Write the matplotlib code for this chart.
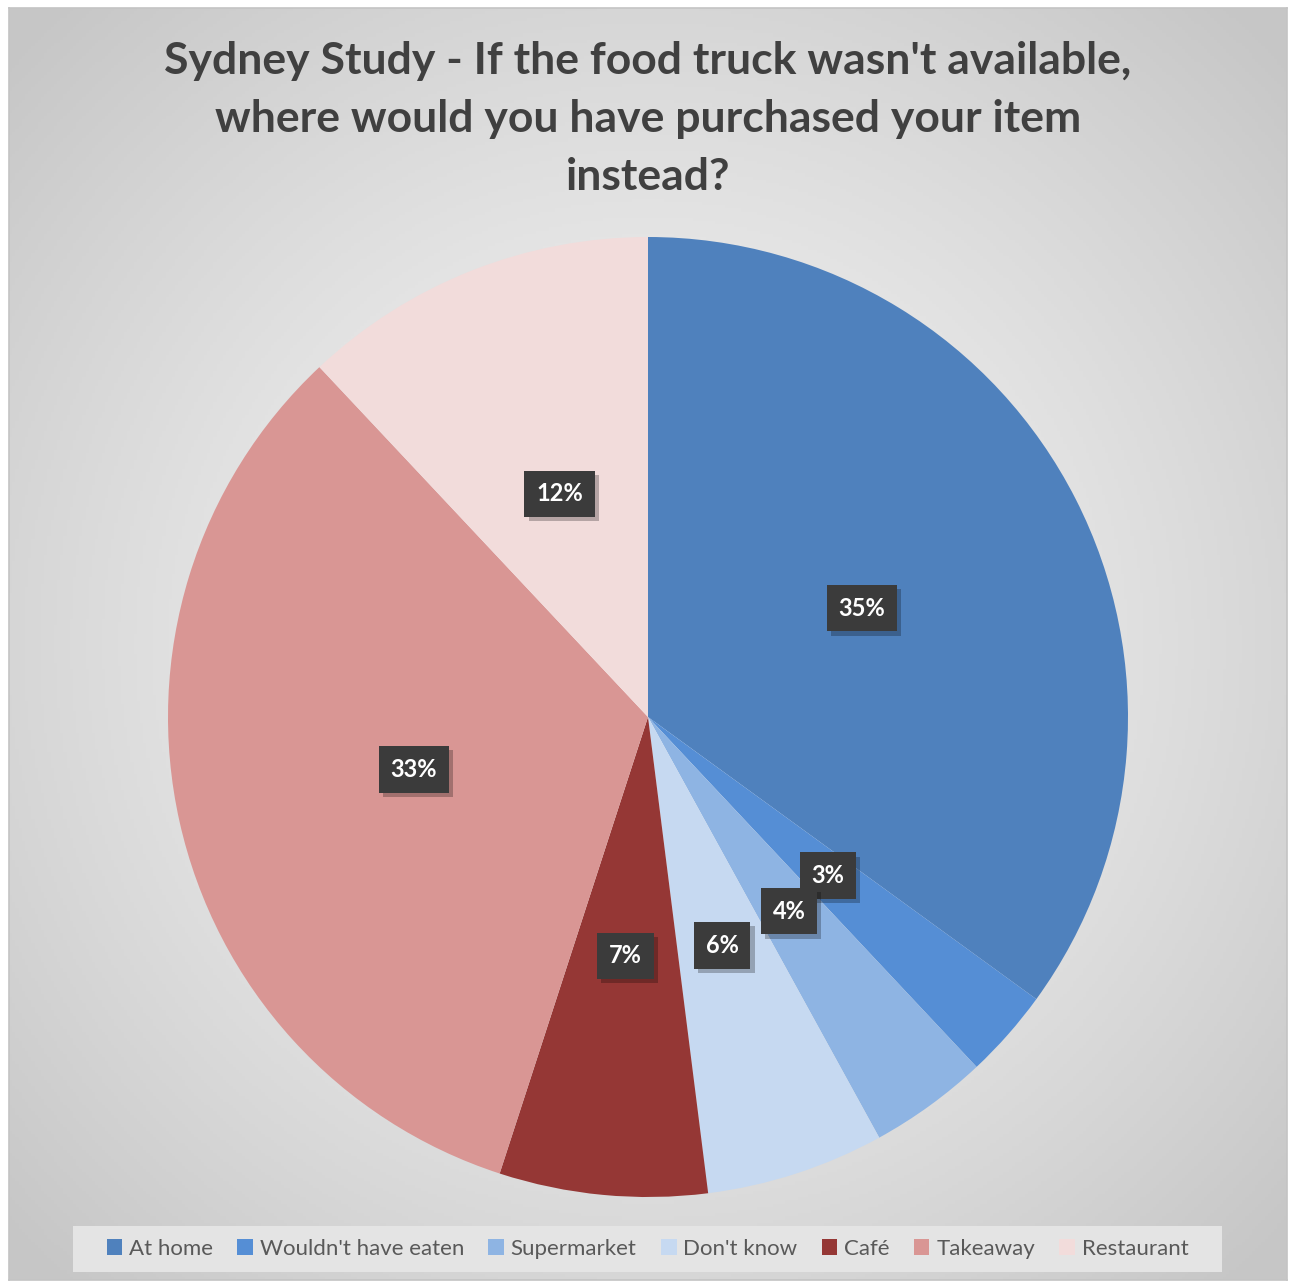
import numpy as np
import matplotlib.pyplot as plt
from matplotlib.patches import Rectangle, Patch
import matplotlib.patheffects as pe

plt.rcParams['font.family'] = ['Lato', 'DejaVu Sans']

# --- survey answers ---
categories = ["At home", "Wouldn't have eaten", "Supermarket", "Don't know",
              "Café", "Takeaway", "Restaurant"]
shares = [35, 3, 4, 6, 7, 33, 12]
colors = ["#4f81bd", "#558ed5", "#8eb4e3", "#c6d9f1",
          "#953735", "#d99694", "#f2dcdb"]
title = ("Sydney Study - If the food truck wasn't available,\n"
         "where would you have purchased your item\ninstead?")

W, H = 1293, 1281
fig = plt.figure(figsize=(W / 100, H / 100), dpi=100)
fig.patch.set_facecolor("white")

# --- chart area with radial grey gradient ---
x0, y0, x1, y1 = 9, 8, 1287, 1280
bg = fig.add_axes([x0 / W, 1 - y1 / H, (x1 - x0) / W, (y1 - y0) / H])
gx, gy = np.meshgrid(np.linspace(-1, 1, 400), np.linspace(-1, 1, 400))
dist = np.clip(np.sqrt(gx ** 2 + gy ** 2) / 1.35, 0, 1)
shade = 0.965 - 0.185 * dist ** 1.3
bg.imshow(np.dstack([shade] * 3), extent=(0, 1, 0, 1), aspect="auto")
bg.set_xlim(0, 1)
bg.set_ylim(0, 1)
bg.set_xticks([])
bg.set_yticks([])
for s in bg.spines.values():
    s.set_color("#c4c4c4")
    s.set_linewidth(1.2)

# --- pie ---
cx, cy, r = 648, 717, 480
ax = fig.add_axes([(cx - r) / W, (H - cy - r) / H, 2 * r / W, 2 * r / H])
ax.set_facecolor("none")
wedges, texts = ax.pie(shares, colors=colors, startangle=90, counterclock=False,
                       labels=[f"{v}%" for v in shares], labeldistance=0.5,
                       wedgeprops=dict(linewidth=0))
ax.set_xlim(-1, 1)
ax.set_ylim(-1, 1)
ax.axis("off")

for t in texts:
    t.set_ha("center")
    t.set_va("center")
    t.set_color("white")
    t.set_fontsize(17)
    t.set_fontweight("bold")
    t.set_bbox(dict(boxstyle="square,pad=0.5", facecolor="#3b3b3b",
                    edgecolor="none", linewidth=0))
    t.get_bbox_patch().set_path_effects([
        pe.SimplePatchShadow(offset=(3, -3), shadow_rgbFace="black", alpha=0.25),
        pe.Normal()])

# --- title ---
fig.text(cx / W, 1 - 119 / H, title, ha="center", va="center",
         fontsize=32, fontweight="bold", color="#404040", linespacing=1.55)

# --- legend ---
lx0, ly0, lx1, ly1 = 73, 1226, 1222, 1272
fig.patches.append(Rectangle((lx0 / W, 1 - ly1 / H), (lx1 - lx0) / W, (ly1 - ly0) / H,
                             transform=fig.transFigure, facecolor="#e4e4e4",
                             edgecolor="none", zorder=1))
handles = [Patch(facecolor=c, edgecolor="none") for c in colors]
fig.legend(handles, categories, loc="center", ncol=7,
           bbox_to_anchor=((lx0 + lx1) / 2 / W, 1 - (ly0 + ly1) / 2 / H),
           frameon=False, fontsize=16, labelcolor="#595959",
           handlelength=0.7, handleheight=0.7, handletextpad=0.3,
           columnspacing=1.1)

fig.savefig("out.png", dpi=100)
